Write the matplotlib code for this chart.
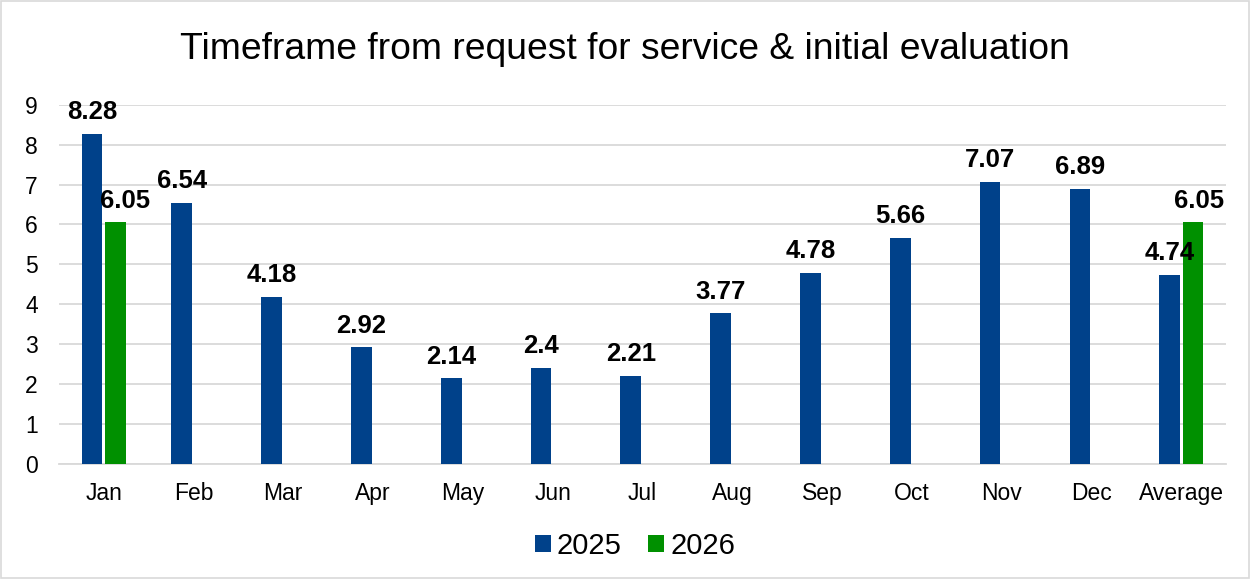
import numpy as np
import matplotlib
matplotlib.use("Agg")
import matplotlib.pyplot as plt
from matplotlib.patches import Rectangle

plt.rcParams['font.family'] = ['Liberation Sans', 'DejaVu Sans']

months = ['Jan', 'Feb', 'Mar', 'Apr', 'May', 'Jun', 'Jul', 'Aug', 'Sep', 'Oct', 'Nov', 'Dec', 'Average']
vals_2025 = [8.28, 6.54, 4.18, 2.92, 2.14, 2.4, 2.21, 3.77, 4.78, 5.66, 7.07, 6.89, 4.74]
vals_2026 = [6.05, None, None, None, None, None, None, None, None, None, None, None, 6.05]

blue = '#00418a'
green = '#009000'

fig = plt.figure(figsize=(12.5, 5.79), dpi=100)
ax = fig.add_axes([0.047, 0.199, 0.934, 0.62])

x = np.arange(len(months))
w = 0.23
off = 0.13

b1 = ax.bar(x - off, vals_2025, width=w, color=blue, label='2025', zorder=3)
x2 = [xi + off for xi, v in zip(x, vals_2026) if v is not None]
v2 = [v for v in vals_2026 if v is not None]
b2 = ax.bar(x2, v2, width=w, color=green, label='2026', zorder=3)

for xi, v in zip(x - off, vals_2025):
    ax.annotate(f'{v:g}', (xi, v), xytext=(0, 7), textcoords='offset points',
                ha='center', va='bottom', fontsize=18.5, fontweight='bold')
for i, (xi, v) in enumerate(zip(x2, v2)):
    dx = 7 if i == 0 else 4
    ax.annotate(f'{v:g}', (xi, v), xytext=(dx, 7), textcoords='offset points',
                ha='center', va='bottom', fontsize=18.5, fontweight='bold')

ax.set_xlim(-0.5, len(months) - 0.5)
ax.set_ylim(0, 9)
ax.set_yticks(range(10))
ax.set_xticks(x)
ax.set_xticklabels(months)
ax.tick_params(axis='both', length=0, labelsize=16.5)
ax.tick_params(axis='y', pad=15)
ax.tick_params(axis='x', pad=13)
ax.grid(axis='y', color='#d9d9d9', linewidth=1.3, zorder=0)
for s in ['top', 'right', 'left']:
    ax.spines[s].set_visible(False)
ax.spines['bottom'].set_color('#d9d9d9')
ax.spines['bottom'].set_linewidth(1.3)

fig.suptitle('Timeframe from request for service & initial evaluation', fontsize=26.8, y=0.945)

fig.legend(handles=[b1, b2], loc='center', bbox_to_anchor=(0.508, 0.057), ncol=2,
           frameon=False, fontsize=21, handlelength=0.55, handleheight=0.55,
           handletextpad=0.2, columnspacing=0.9)

fig.patches.append(Rectangle((0.001, 0.002), 0.998, 0.996, transform=fig.transFigure,
                             fill=False, edgecolor='#d9d9d9', linewidth=1.2))

fig.savefig('out.png', dpi=100)
